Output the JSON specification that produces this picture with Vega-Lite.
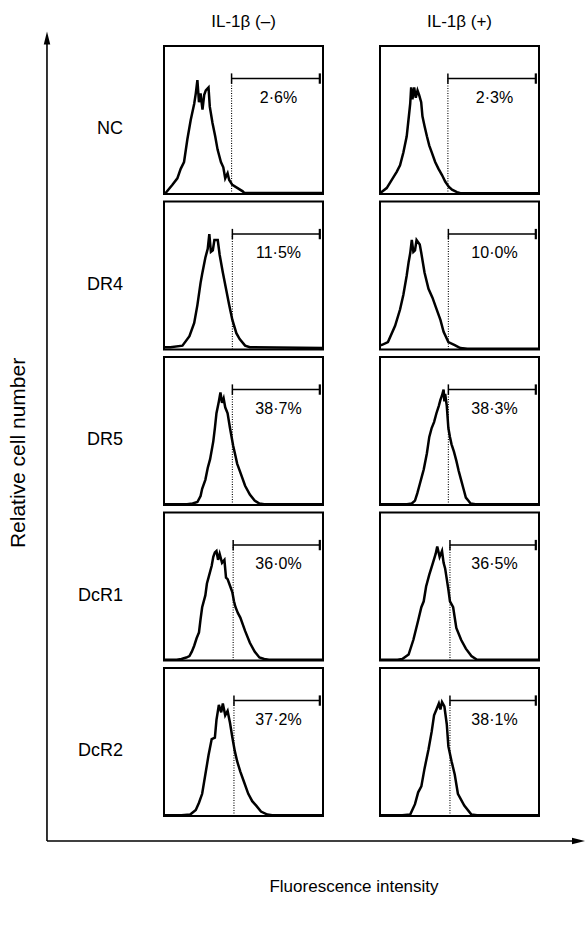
{
  "$schema": "https://vega.github.io/schema/vega-lite/v6.json",
  "padding": {"left": 6, "top": 13, "right": 0, "bottom": 0},
  "background": "white",
  "config": {
    "font": "Liberation Sans",
    "view": {"stroke": "black", "strokeWidth": 2},
    "text": {"font": "Liberation Sans"}
  },
  "datasets": {
    "cyto": [
      {"r":"DcR2","c":"IL-1β (–)","a":1,"xt":"Fluorescence intensity","yt":"Relative cell number"},
      {"r":"NC","c":"IL-1β (–)","x":0,"y":0.7},{"r":"NC","c":"IL-1β (–)","x":1,"y":0.7},{"r":"NC","c":"IL-1β (–)","x":5.3,"y":6.2},{"r":"NC","c":"IL-1β (–)","x":8.4,"y":10.6},{"r":"NC","c":"IL-1β (–)","x":10.5,"y":17},{"r":"NC","c":"IL-1β (–)","x":12.6,"y":21.6},{"r":"NC","c":"IL-1β (–)","x":14.7,"y":37},{"r":"NC","c":"IL-1β (–)","x":16.8,"y":50},{"r":"NC","c":"IL-1β (–)","x":19,"y":61},{"r":"NC","c":"IL-1β (–)","x":20,"y":68},{"r":"NC","c":"IL-1β (–)","x":21,"y":77},{"r":"NC","c":"IL-1β (–)","x":22,"y":62},{"r":"NC","c":"IL-1β (–)","x":23,"y":68},{"r":"NC","c":"IL-1β (–)","x":24.2,"y":57},{"r":"NC","c":"IL-1β (–)","x":25.3,"y":67},{"r":"NC","c":"IL-1β (–)","x":26.3,"y":70},{"r":"NC","c":"IL-1β (–)","x":28,"y":72},{"r":"NC","c":"IL-1β (–)","x":28.8,"y":59},{"r":"NC","c":"IL-1β (–)","x":30.5,"y":48},{"r":"NC","c":"IL-1β (–)","x":32.2,"y":39},{"r":"NC","c":"IL-1β (–)","x":33.7,"y":30},{"r":"NC","c":"IL-1β (–)","x":35.8,"y":21.6},{"r":"NC","c":"IL-1β (–)","x":37.3,"y":18},{"r":"NC","c":"IL-1β (–)","x":38.5,"y":10.6},{"r":"NC","c":"IL-1β (–)","x":40,"y":14},{"r":"NC","c":"IL-1β (–)","x":41,"y":9.5},{"r":"NC","c":"IL-1β (–)","x":43,"y":6.2},{"r":"NC","c":"IL-1β (–)","x":46.3,"y":4},{"r":"NC","c":"IL-1β (–)","x":49.5,"y":1.8},{"r":"NC","c":"IL-1β (–)","x":50.5,"y":0.7},{"r":"NC","c":"IL-1β (–)","x":100,"y":0.7},
      {"r":"NC","c":"IL-1β (+)","x":0,"y":1.3},{"r":"NC","c":"IL-1β (+)","x":1,"y":1.3},{"r":"NC","c":"IL-1β (+)","x":4.2,"y":4},{"r":"NC","c":"IL-1β (+)","x":7.4,"y":9.5},{"r":"NC","c":"IL-1β (+)","x":10.5,"y":15},{"r":"NC","c":"IL-1β (+)","x":12.6,"y":19.4},{"r":"NC","c":"IL-1β (+)","x":14.7,"y":28},{"r":"NC","c":"IL-1β (+)","x":16.8,"y":39},{"r":"NC","c":"IL-1β (+)","x":17.9,"y":50},{"r":"NC","c":"IL-1β (+)","x":19,"y":61},{"r":"NC","c":"IL-1β (+)","x":19.6,"y":72},{"r":"NC","c":"IL-1β (+)","x":20.4,"y":64},{"r":"NC","c":"IL-1β (+)","x":21.5,"y":72},{"r":"NC","c":"IL-1β (+)","x":22.5,"y":65},{"r":"NC","c":"IL-1β (+)","x":23.6,"y":70},{"r":"NC","c":"IL-1β (+)","x":24.6,"y":67},{"r":"NC","c":"IL-1β (+)","x":25.9,"y":62},{"r":"NC","c":"IL-1β (+)","x":26.7,"y":52.5},{"r":"NC","c":"IL-1β (+)","x":28,"y":46},{"r":"NC","c":"IL-1β (+)","x":29.5,"y":39},{"r":"NC","c":"IL-1β (+)","x":31,"y":32.7},{"r":"NC","c":"IL-1β (+)","x":32.6,"y":28},{"r":"NC","c":"IL-1β (+)","x":34.7,"y":21.6},{"r":"NC","c":"IL-1β (+)","x":36.8,"y":17},{"r":"NC","c":"IL-1β (+)","x":39,"y":12.8},{"r":"NC","c":"IL-1β (+)","x":41,"y":8.4},{"r":"NC","c":"IL-1β (+)","x":43.2,"y":5},{"r":"NC","c":"IL-1β (+)","x":45.3,"y":2.9},{"r":"NC","c":"IL-1β (+)","x":48.4,"y":1.3},{"r":"NC","c":"IL-1β (+)","x":50.5,"y":0.5},{"r":"NC","c":"IL-1β (+)","x":100,"y":0.5},
      {"r":"DR4","c":"IL-1β (–)","x":0,"y":1.5},{"r":"DR4","c":"IL-1β (–)","x":4,"y":1.5},{"r":"DR4","c":"IL-1β (–)","x":11.6,"y":2.6},{"r":"DR4","c":"IL-1β (–)","x":16,"y":9},{"r":"DR4","c":"IL-1β (–)","x":19,"y":18},{"r":"DR4","c":"IL-1β (–)","x":21,"y":30},{"r":"DR4","c":"IL-1β (–)","x":23,"y":45},{"r":"DR4","c":"IL-1β (–)","x":24,"y":51},{"r":"DR4","c":"IL-1β (–)","x":26,"y":62},{"r":"DR4","c":"IL-1β (–)","x":27.5,"y":68},{"r":"DR4","c":"IL-1β (–)","x":28.5,"y":78},{"r":"DR4","c":"IL-1β (–)","x":29.5,"y":66},{"r":"DR4","c":"IL-1β (–)","x":30.7,"y":67},{"r":"DR4","c":"IL-1β (–)","x":31.7,"y":74},{"r":"DR4","c":"IL-1β (–)","x":33.8,"y":74},{"r":"DR4","c":"IL-1β (–)","x":35,"y":64},{"r":"DR4","c":"IL-1β (–)","x":37,"y":52},{"r":"DR4","c":"IL-1β (–)","x":39,"y":41},{"r":"DR4","c":"IL-1β (–)","x":41,"y":30},{"r":"DR4","c":"IL-1β (–)","x":43,"y":20},{"r":"DR4","c":"IL-1β (–)","x":45.5,"y":11},{"r":"DR4","c":"IL-1β (–)","x":47.6,"y":7},{"r":"DR4","c":"IL-1β (–)","x":51,"y":2.6},{"r":"DR4","c":"IL-1β (–)","x":54,"y":1.5},{"r":"DR4","c":"IL-1β (–)","x":100,"y":1},
      {"r":"DR4","c":"IL-1β (+)","x":0,"y":3},{"r":"DR4","c":"IL-1β (+)","x":1,"y":3},{"r":"DR4","c":"IL-1β (+)","x":5,"y":5},{"r":"DR4","c":"IL-1β (+)","x":9.5,"y":16},{"r":"DR4","c":"IL-1β (+)","x":12.6,"y":27},{"r":"DR4","c":"IL-1β (+)","x":14.7,"y":37},{"r":"DR4","c":"IL-1β (+)","x":16.8,"y":50},{"r":"DR4","c":"IL-1β (+)","x":18,"y":59},{"r":"DR4","c":"IL-1β (+)","x":19,"y":65},{"r":"DR4","c":"IL-1β (+)","x":20,"y":74},{"r":"DR4","c":"IL-1β (+)","x":21,"y":66},{"r":"DR4","c":"IL-1β (+)","x":22,"y":67},{"r":"DR4","c":"IL-1β (+)","x":23,"y":74},{"r":"DR4","c":"IL-1β (+)","x":25,"y":71},{"r":"DR4","c":"IL-1β (+)","x":26,"y":65},{"r":"DR4","c":"IL-1β (+)","x":28,"y":52},{"r":"DR4","c":"IL-1β (+)","x":30.5,"y":41},{"r":"DR4","c":"IL-1β (+)","x":33,"y":35},{"r":"DR4","c":"IL-1β (+)","x":35,"y":29},{"r":"DR4","c":"IL-1β (+)","x":38,"y":20},{"r":"DR4","c":"IL-1β (+)","x":40,"y":12},{"r":"DR4","c":"IL-1β (+)","x":43,"y":5},{"r":"DR4","c":"IL-1β (+)","x":47,"y":3},{"r":"DR4","c":"IL-1β (+)","x":50.5,"y":1},{"r":"DR4","c":"IL-1β (+)","x":55,"y":0.5},{"r":"DR4","c":"IL-1β (+)","x":100,"y":0.5},
      {"r":"DR5","c":"IL-1β (–)","x":0,"y":0.5},{"r":"DR5","c":"IL-1β (–)","x":14.5,"y":0.5},{"r":"DR5","c":"IL-1β (–)","x":18,"y":1},{"r":"DR5","c":"IL-1β (–)","x":21,"y":2},{"r":"DR5","c":"IL-1β (–)","x":23,"y":6},{"r":"DR5","c":"IL-1β (–)","x":24,"y":11},{"r":"DR5","c":"IL-1β (–)","x":26,"y":17},{"r":"DR5","c":"IL-1β (–)","x":27.5,"y":25},{"r":"DR5","c":"IL-1β (–)","x":29,"y":31},{"r":"DR5","c":"IL-1β (–)","x":31,"y":43},{"r":"DR5","c":"IL-1β (–)","x":32,"y":52},{"r":"DR5","c":"IL-1β (–)","x":33,"y":62},{"r":"DR5","c":"IL-1β (–)","x":34.5,"y":70},{"r":"DR5","c":"IL-1β (–)","x":35.5,"y":76},{"r":"DR5","c":"IL-1β (–)","x":36.5,"y":69},{"r":"DR5","c":"IL-1β (–)","x":37.5,"y":72},{"r":"DR5","c":"IL-1β (–)","x":38.5,"y":66},{"r":"DR5","c":"IL-1β (–)","x":40,"y":62},{"r":"DR5","c":"IL-1β (–)","x":41.5,"y":52},{"r":"DR5","c":"IL-1β (–)","x":43.5,"y":40},{"r":"DR5","c":"IL-1β (–)","x":45,"y":33},{"r":"DR5","c":"IL-1β (–)","x":46,"y":28},{"r":"DR5","c":"IL-1β (–)","x":48,"y":22},{"r":"DR5","c":"IL-1β (–)","x":51,"y":13},{"r":"DR5","c":"IL-1β (–)","x":54,"y":7},{"r":"DR5","c":"IL-1β (–)","x":57,"y":3},{"r":"DR5","c":"IL-1β (–)","x":60,"y":1},{"r":"DR5","c":"IL-1β (–)","x":63,"y":0.5},{"r":"DR5","c":"IL-1β (–)","x":100,"y":0.5},
      {"r":"DR5","c":"IL-1β (+)","x":0,"y":0.5},{"r":"DR5","c":"IL-1β (+)","x":17,"y":0.5},{"r":"DR5","c":"IL-1β (+)","x":20,"y":1},{"r":"DR5","c":"IL-1β (+)","x":22,"y":3},{"r":"DR5","c":"IL-1β (+)","x":23.5,"y":8},{"r":"DR5","c":"IL-1β (+)","x":25,"y":14},{"r":"DR5","c":"IL-1β (+)","x":26.5,"y":20},{"r":"DR5","c":"IL-1β (+)","x":27.5,"y":24},{"r":"DR5","c":"IL-1β (+)","x":29.5,"y":35},{"r":"DR5","c":"IL-1β (+)","x":31,"y":46},{"r":"DR5","c":"IL-1β (+)","x":32.5,"y":52},{"r":"DR5","c":"IL-1β (+)","x":34,"y":56},{"r":"DR5","c":"IL-1β (+)","x":35.5,"y":62},{"r":"DR5","c":"IL-1β (+)","x":37,"y":67},{"r":"DR5","c":"IL-1β (+)","x":38,"y":71},{"r":"DR5","c":"IL-1β (+)","x":39,"y":74},{"r":"DR5","c":"IL-1β (+)","x":40,"y":78},{"r":"DR5","c":"IL-1β (+)","x":40.5,"y":70},{"r":"DR5","c":"IL-1β (+)","x":41,"y":75},{"r":"DR5","c":"IL-1β (+)","x":42,"y":67},{"r":"DR5","c":"IL-1β (+)","x":43,"y":52},{"r":"DR5","c":"IL-1β (+)","x":44,"y":46},{"r":"DR5","c":"IL-1β (+)","x":45,"y":41},{"r":"DR5","c":"IL-1β (+)","x":46.5,"y":36},{"r":"DR5","c":"IL-1β (+)","x":48,"y":30},{"r":"DR5","c":"IL-1β (+)","x":49.5,"y":23},{"r":"DR5","c":"IL-1β (+)","x":51,"y":17},{"r":"DR5","c":"IL-1β (+)","x":52.5,"y":11},{"r":"DR5","c":"IL-1β (+)","x":54,"y":5},{"r":"DR5","c":"IL-1β (+)","x":55.5,"y":3},{"r":"DR5","c":"IL-1β (+)","x":57,"y":1},{"r":"DR5","c":"IL-1β (+)","x":60,"y":0.5},{"r":"DR5","c":"IL-1β (+)","x":100,"y":0.5},
      {"r":"DcR1","c":"IL-1β (–)","x":0,"y":0.5},{"r":"DcR1","c":"IL-1β (–)","x":8,"y":0.5},{"r":"DcR1","c":"IL-1β (–)","x":11,"y":1},{"r":"DcR1","c":"IL-1β (–)","x":14,"y":2},{"r":"DcR1","c":"IL-1β (–)","x":16,"y":3},{"r":"DcR1","c":"IL-1β (–)","x":17.5,"y":6},{"r":"DcR1","c":"IL-1β (–)","x":19,"y":10},{"r":"DcR1","c":"IL-1β (–)","x":20.5,"y":15},{"r":"DcR1","c":"IL-1β (–)","x":22,"y":19},{"r":"DcR1","c":"IL-1β (–)","x":23,"y":28},{"r":"DcR1","c":"IL-1β (–)","x":24,"y":36},{"r":"DcR1","c":"IL-1β (–)","x":26,"y":44},{"r":"DcR1","c":"IL-1β (–)","x":27,"y":52},{"r":"DcR1","c":"IL-1β (–)","x":28,"y":56},{"r":"DcR1","c":"IL-1β (–)","x":30,"y":64},{"r":"DcR1","c":"IL-1β (–)","x":31,"y":70},{"r":"DcR1","c":"IL-1β (–)","x":32,"y":73},{"r":"DcR1","c":"IL-1β (–)","x":33,"y":74},{"r":"DcR1","c":"IL-1β (–)","x":34,"y":68},{"r":"DcR1","c":"IL-1β (–)","x":35,"y":72},{"r":"DcR1","c":"IL-1β (–)","x":36.5,"y":66},{"r":"DcR1","c":"IL-1β (–)","x":38,"y":68},{"r":"DcR1","c":"IL-1β (–)","x":39,"y":56},{"r":"DcR1","c":"IL-1β (–)","x":40,"y":55},{"r":"DcR1","c":"IL-1β (–)","x":41,"y":52},{"r":"DcR1","c":"IL-1β (–)","x":43,"y":46},{"r":"DcR1","c":"IL-1β (–)","x":44,"y":40},{"r":"DcR1","c":"IL-1β (–)","x":45,"y":36},{"r":"DcR1","c":"IL-1β (–)","x":46.5,"y":32},{"r":"DcR1","c":"IL-1β (–)","x":48,"y":29},{"r":"DcR1","c":"IL-1β (–)","x":51,"y":20},{"r":"DcR1","c":"IL-1β (–)","x":54,"y":12},{"r":"DcR1","c":"IL-1β (–)","x":57,"y":6},{"r":"DcR1","c":"IL-1β (–)","x":60,"y":2},{"r":"DcR1","c":"IL-1β (–)","x":63,"y":1},{"r":"DcR1","c":"IL-1β (–)","x":66,"y":0.5},{"r":"DcR1","c":"IL-1β (–)","x":100,"y":0.5},
      {"r":"DcR1","c":"IL-1β (+)","x":0,"y":0.5},{"r":"DcR1","c":"IL-1β (+)","x":11,"y":0.5},{"r":"DcR1","c":"IL-1β (+)","x":14,"y":1},{"r":"DcR1","c":"IL-1β (+)","x":18,"y":4},{"r":"DcR1","c":"IL-1β (+)","x":21,"y":14},{"r":"DcR1","c":"IL-1β (+)","x":24,"y":27},{"r":"DcR1","c":"IL-1β (+)","x":26,"y":36},{"r":"DcR1","c":"IL-1β (+)","x":27.5,"y":40},{"r":"DcR1","c":"IL-1β (+)","x":29,"y":50},{"r":"DcR1","c":"IL-1β (+)","x":31,"y":58},{"r":"DcR1","c":"IL-1β (+)","x":33,"y":65},{"r":"DcR1","c":"IL-1β (+)","x":35,"y":72},{"r":"DcR1","c":"IL-1β (+)","x":36,"y":77},{"r":"DcR1","c":"IL-1β (+)","x":37.5,"y":70},{"r":"DcR1","c":"IL-1β (+)","x":39,"y":74},{"r":"DcR1","c":"IL-1β (+)","x":40,"y":66},{"r":"DcR1","c":"IL-1β (+)","x":41,"y":62},{"r":"DcR1","c":"IL-1β (+)","x":42,"y":55},{"r":"DcR1","c":"IL-1β (+)","x":43,"y":48},{"r":"DcR1","c":"IL-1β (+)","x":44,"y":40},{"r":"DcR1","c":"IL-1β (+)","x":46,"y":36},{"r":"DcR1","c":"IL-1β (+)","x":48,"y":22},{"r":"DcR1","c":"IL-1β (+)","x":51,"y":14},{"r":"DcR1","c":"IL-1β (+)","x":54,"y":8},{"r":"DcR1","c":"IL-1β (+)","x":57.5,"y":3},{"r":"DcR1","c":"IL-1β (+)","x":61,"y":0.5},{"r":"DcR1","c":"IL-1β (+)","x":100,"y":0.5},
      {"r":"DcR2","c":"IL-1β (–)","x":0,"y":0.5},{"r":"DcR2","c":"IL-1β (–)","x":11,"y":0.5},{"r":"DcR2","c":"IL-1β (–)","x":16.5,"y":1},{"r":"DcR2","c":"IL-1β (–)","x":20,"y":4},{"r":"DcR2","c":"IL-1β (–)","x":22,"y":9},{"r":"DcR2","c":"IL-1β (–)","x":24,"y":15},{"r":"DcR2","c":"IL-1β (–)","x":26,"y":28},{"r":"DcR2","c":"IL-1β (–)","x":28,"y":41},{"r":"DcR2","c":"IL-1β (–)","x":30,"y":52},{"r":"DcR2","c":"IL-1β (–)","x":32,"y":53},{"r":"DcR2","c":"IL-1β (–)","x":33,"y":65},{"r":"DcR2","c":"IL-1β (–)","x":34.5,"y":75},{"r":"DcR2","c":"IL-1β (–)","x":36,"y":70},{"r":"DcR2","c":"IL-1β (–)","x":37,"y":76},{"r":"DcR2","c":"IL-1β (–)","x":38.5,"y":68},{"r":"DcR2","c":"IL-1β (–)","x":40,"y":71},{"r":"DcR2","c":"IL-1β (–)","x":41.5,"y":63},{"r":"DcR2","c":"IL-1β (–)","x":43,"y":53},{"r":"DcR2","c":"IL-1β (–)","x":44.5,"y":44},{"r":"DcR2","c":"IL-1β (–)","x":46,"y":37},{"r":"DcR2","c":"IL-1β (–)","x":48,"y":30},{"r":"DcR2","c":"IL-1β (–)","x":50,"y":24},{"r":"DcR2","c":"IL-1β (–)","x":53,"y":15},{"r":"DcR2","c":"IL-1β (–)","x":55.5,"y":10},{"r":"DcR2","c":"IL-1β (–)","x":58,"y":7},{"r":"DcR2","c":"IL-1β (–)","x":61,"y":3},{"r":"DcR2","c":"IL-1β (–)","x":65,"y":1},{"r":"DcR2","c":"IL-1β (–)","x":68,"y":0.5},{"r":"DcR2","c":"IL-1β (–)","x":100,"y":0.5},
      {"r":"DcR2","c":"IL-1β (+)","x":0,"y":0.5},{"r":"DcR2","c":"IL-1β (+)","x":14,"y":0.5},{"r":"DcR2","c":"IL-1β (+)","x":19,"y":1},{"r":"DcR2","c":"IL-1β (+)","x":22,"y":8},{"r":"DcR2","c":"IL-1β (+)","x":24,"y":16},{"r":"DcR2","c":"IL-1β (+)","x":26,"y":20},{"r":"DcR2","c":"IL-1β (+)","x":28,"y":32},{"r":"DcR2","c":"IL-1β (+)","x":30.5,"y":45},{"r":"DcR2","c":"IL-1β (+)","x":32.5,"y":57},{"r":"DcR2","c":"IL-1β (+)","x":34,"y":68},{"r":"DcR2","c":"IL-1β (+)","x":35.5,"y":72},{"r":"DcR2","c":"IL-1β (+)","x":37,"y":76},{"r":"DcR2","c":"IL-1β (+)","x":38,"y":72},{"r":"DcR2","c":"IL-1β (+)","x":39,"y":77},{"r":"DcR2","c":"IL-1β (+)","x":40.5,"y":74},{"r":"DcR2","c":"IL-1β (+)","x":42,"y":62},{"r":"DcR2","c":"IL-1β (+)","x":43,"y":47},{"r":"DcR2","c":"IL-1β (+)","x":45,"y":37},{"r":"DcR2","c":"IL-1β (+)","x":47,"y":28},{"r":"DcR2","c":"IL-1β (+)","x":49,"y":15},{"r":"DcR2","c":"IL-1β (+)","x":53,"y":7},{"r":"DcR2","c":"IL-1β (+)","x":57.5,"y":1},{"r":"DcR2","c":"IL-1β (+)","x":61,"y":0.5},{"r":"DcR2","c":"IL-1β (+)","x":100,"y":0.5},
      {"r":"NC","c":"IL-1β (–)","g":42.5,"p":"2·6%"},
      {"r":"NC","c":"IL-1β (+)","g":42.7,"p":"2·3%"},
      {"r":"DR4","c":"IL-1β (–)","g":43,"p":"11·5%"},
      {"r":"DR4","c":"IL-1β (+)","g":43,"p":"10·0%"},
      {"r":"DR5","c":"IL-1β (–)","g":43,"p":"38·7%"},
      {"r":"DR5","c":"IL-1β (+)","g":43,"p":"38·3%"},
      {"r":"DcR1","c":"IL-1β (–)","g":43.5,"p":"36·0%"},
      {"r":"DcR1","c":"IL-1β (+)","g":44,"p":"36·5%"},
      {"r":"DcR2","c":"IL-1β (–)","g":44,"p":"37·2%"},
      {"r":"DcR2","c":"IL-1β (+)","g":44,"p":"38·1%"}
    ]
  },
  "data": {"name": "cyto"},
  "facet": {
    "row": {"field": "r", "type": "nominal", "sort": ["NC", "DR4", "DR5", "DcR1", "DcR2"], "title": null,
            "header": {"labelAngle": 0, "labelOrient": "left", "labelAlign": "left", "labelBaseline": "top", "labelPadding": 41, "labelFontSize": 18, "labelFont": "Liberation Sans", "labelColor": "black"}},
    "column": {"field": "c", "type": "nominal", "sort": ["IL-1β (–)", "IL-1β (+)"], "title": null,
               "header": {"labelOrient": "top", "labelFontSize": 17, "labelFont": "Liberation Sans", "labelColor": "black", "labelPadding": 15}}
  },
  "spacing": {"row": 7.5, "column": 57},
  "bounds": "flush",
  "resolve": {"axis": {"x": "independent", "y": "independent"}},
  "spec": {
    "width": 159,
    "height": 148,
    "layer": [
      {
        "transform": [{"filter": "isValid(datum.x)"}],
        "mark": {"type": "line", "color": "black", "strokeWidth": 2.5},
        "encoding": {
          "x": {"field": "x", "type": "quantitative", "scale": {"domain": [0, 100], "nice": false, "zero": false},
                "axis": {"title": null, "labels": false, "domain": false, "grid": false, "offset": -4, "tickSize": 4, "tickColor": "black", "tickWidth": 1, "values": [10, 20, 30, 40, 50, 60, 70, 80, 90]}},
          "y": {"field": "y", "type": "quantitative", "scale": {"domain": [0, 100], "nice": false, "zero": false},
                "axis": {"title": null, "labels": false, "domain": false, "grid": false, "offset": -4, "tickSize": 4, "tickColor": "black", "tickWidth": 1, "values": [10, 20, 30, 40, 50, 60, 70, 80, 90]}}
        }
      },
      {
        "transform": [{"filter": "isValid(datum.g)"}],
        "mark": {"type": "rule", "color": "black", "strokeWidth": 1.1, "strokeDash": [1, 1.5]},
        "encoding": {
          "x": {"field": "g", "type": "quantitative", "axis": null},
          "y": {"datum": 0, "type": "quantitative", "axis": null},
          "y2": {"datum": 78}
        }
      },
      {
        "transform": [{"filter": "isValid(datum.g)"}],
        "mark": {"type": "rule", "color": "black", "strokeWidth": 1.5},
        "encoding": {
          "x": {"field": "g", "type": "quantitative", "axis": null},
          "x2": {"datum": 98},
          "y": {"datum": 78, "type": "quantitative", "axis": null}
        }
      },
      {
        "transform": [{"filter": "isValid(datum.g)"}],
        "mark": {"type": "rule", "color": "black", "strokeWidth": 1.5},
        "encoding": {
          "x": {"field": "g", "type": "quantitative", "axis": null},
          "y": {"datum": 74.5, "type": "quantitative", "axis": null},
          "y2": {"datum": 81.5}
        }
      },
      {
        "transform": [{"filter": "isValid(datum.g)"}],
        "mark": {"type": "rule", "color": "black", "strokeWidth": 2.2},
        "encoding": {
          "x": {"datum": 98, "type": "quantitative", "axis": null},
          "y": {"datum": 74.5, "type": "quantitative", "axis": null},
          "y2": {"datum": 81.5}
        }
      },
      {
        "transform": [{"filter": "isValid(datum.g)"}],
        "mark": {"type": "text", "color": "black", "fontSize": 16, "font": "Liberation Sans", "align": "center", "baseline": "middle"},
        "encoding": {
          "text": {"field": "p"},
          "x": {"datum": 72, "type": "quantitative", "axis": null},
          "y": {"datum": 65, "type": "quantitative", "axis": null}
        }
      },
      {
        "transform": [{"filter": "datum.a == 1"}],
        "mark": {"type": "rule", "color": "black", "strokeWidth": 1.6},
        "encoding": {
          "x": {"datum": -73.6, "type": "quantitative", "axis": null},
          "x2": {"datum": 260.7},
          "y": {"datum": -16.9, "type": "quantitative", "axis": null}
        }
      },
      {
        "transform": [{"filter": "datum.a == 1"}],
        "mark": {"type": "rule", "color": "black", "strokeWidth": 1.6},
        "encoding": {
          "x": {"datum": -73.6, "type": "quantitative", "axis": null},
          "y": {"datum": -16.9, "type": "quantitative", "axis": null},
          "y2": {"datum": 525.7}
        }
      },
      {
        "transform": [{"filter": "datum.a == 1"}],
        "mark": {"type": "point", "filled": true, "color": "black", "opacity": 1, "size": 169, "shape": "M-0.5,1L0,-1L0.5,1Z"},
        "encoding": {
          "x": {"datum": -73.6, "type": "quantitative", "axis": null},
          "y": {"datum": 525.7, "type": "quantitative", "axis": null}
        }
      },
      {
        "transform": [{"filter": "datum.a == 1"}],
        "mark": {"type": "point", "filled": true, "color": "black", "opacity": 1, "size": 169, "shape": "M-1,-0.5L1,0L-1,0.5Z"},
        "encoding": {
          "x": {"datum": 260.7, "type": "quantitative", "axis": null},
          "y": {"datum": -16.9, "type": "quantitative", "axis": null}
        }
      },
      {
        "transform": [{"filter": "datum.a == 1"}],
        "mark": {"type": "text", "color": "black", "fontSize": 17, "font": "Liberation Sans", "align": "center", "baseline": "middle"},
        "encoding": {
          "text": {"field": "xt"},
          "x": {"datum": 119.5, "type": "quantitative", "axis": null},
          "y": {"datum": -48, "type": "quantitative", "axis": null}
        }
      },
      {
        "transform": [{"filter": "datum.a == 1"}],
        "mark": {"type": "text", "color": "black", "fontSize": 21, "font": "Liberation Sans", "align": "center", "baseline": "middle", "angle": 270},
        "encoding": {
          "text": {"field": "yt"},
          "x": {"datum": -91.2, "type": "quantitative", "axis": null},
          "y": {"datum": 245.3, "type": "quantitative", "axis": null}
        }
      }
    ]
  }
}
